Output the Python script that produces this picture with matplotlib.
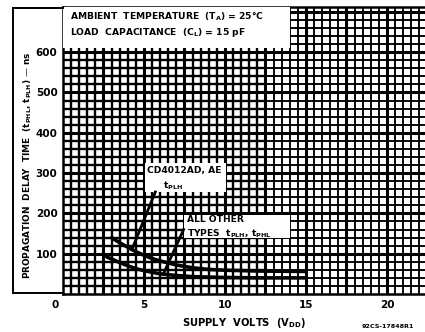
import numpy as np
import matplotlib.pyplot as plt
from matplotlib.patches import Rectangle
from matplotlib.lines import Line2D
import matplotlib.transforms as mtransforms

# propagation delay vs supply voltage (read at 25 C, CL = 15 pF)
vdd_cd4012 = [3.0, 3.5, 4.0, 4.5, 5.0, 5.5, 6.0, 7.0, 8.0, 9.0, 10.0, 12.0, 15.0]
tplh_cd4012 = [140, 127, 116, 105, 96, 88, 82, 72, 65, 61, 59, 57, 56]
vdd_other = [2.7, 3.5, 4.0, 4.5, 5.0, 5.5, 6.0, 7.0, 8.0, 9.0, 10.0, 12.0, 15.0]
tpd_other = [92, 78, 70, 63, 58, 54, 50, 46, 43, 42, 41, 40, 40]

x_ticks = [0, 5, 10, 15, 20]
y_ticks = [100, 200, 300, 400, 500, 600]

W, H = 425, 332
fig = plt.figure(figsize=(W / 100, H / 100), dpi=100)
ax = fig.add_axes([63 / W, 38 / H, 362 / W, 287 / H])
xmax, ymax = 22.35, 712
ax.set_xlim(0, xmax)
ax.set_ylim(0, ymax)

# graph paper: minor every 0.5 V / 20 ns, heavy every 2.5 V / 100 ns
xs = np.arange(0.5, xmax, 0.5)
ys = np.arange(20, ymax, 20)
split = 12.5
for x in xs:
    heavy = abs(x / 2.5 - round(x / 2.5)) < 1e-6
    lw = 2.2 if heavy else (1.7 if x < split else 1.35)
    ax.vlines(x, 0, ymax, color='black', lw=lw, zorder=1)
for y in ys:
    heavy = y % 100 == 0
    if heavy:
        ax.hlines(y, 0, xmax, color='black', lw=2.2, zorder=1)
    else:
        ax.hlines(y, 0, split, color='black', lw=1.7, zorder=1)
        ax.hlines(y, split, xmax, color='black', lw=1.35, zorder=1)

ax.spines['right'].set_visible(False)
for side in ['left', 'bottom', 'top']:
    ax.spines[side].set_linewidth(1.8)

# white label areas
fs = 6.6
f = dict(family='DejaVu Sans', weight='bold', color='black')
ax.add_patch(Rectangle((0, 610), 14.0, ymax - 610, facecolor='white', edgecolor='none', zorder=3))
ax.text(0.45, 688, 'AMBIENT  TEMPERATURE  (T$_\\mathbf{A}$) = 25°C', fontsize=fs, va='center', zorder=4, **f)
ax.text(0.45, 648, 'LOAD  CAPACITANCE  (C$_\\mathbf{L}$) = 15 pF', fontsize=fs, va='center', zorder=4, **f)

ax.add_patch(Rectangle((5.06, 253), 5.0, 72, facecolor='white', edgecolor='none', zorder=3))
ax.text(5.2, 306, 'CD4012AD, AE', fontsize=fs, va='center', zorder=4, **f)
ax.text(6.2, 268, 't$_\\mathbf{PLH}$', fontsize=fs, va='center', zorder=4, **f)

ax.add_patch(Rectangle((7.5, 139), 6.5, 57, facecolor='white', edgecolor='none', zorder=3))
ax.text(7.65, 184, 'ALL OTHER', fontsize=fs, va='center', zorder=4, **f)
ax.text(7.65, 150, 'TYPES  t$_\\mathbf{PLH}$, t$_\\mathbf{PHL}$', fontsize=fs, va='center', zorder=4, **f)

# curves and leaders
ax.plot(vdd_cd4012, tplh_cd4012, color='black', lw=2.6, solid_capstyle='round', zorder=5)
ax.plot(vdd_other, tpd_other, color='black', lw=2.6, solid_capstyle='round', zorder=5)
ax.plot([5.7, 4.25], [253, 110], color='black', lw=2.0, zorder=5)
ax.plot([7.45, 6.2], [160, 50], color='black', lw=2.0, zorder=5)

ax.set_xticks(x_ticks)
ax.set_xticklabels([str(v) for v in x_ticks])
ax.set_yticks(y_ticks)
ax.set_yticklabels([str(v) for v in y_ticks])
ax.tick_params(length=0, labelsize=7.5, pad=4)
for lab in ax.get_xticklabels() + ax.get_yticklabels():
    lab.set_fontweight('bold')
zero = ax.get_xticklabels()[0]
zero.set_transform(zero.get_transform() + mtransforms.ScaledTranslation(-8 / 100, 0, fig.dpi_scale_trans))

ax.set_xlabel('SUPPLY  VOLTS  (V$_\\mathbf{DD}$)', fontsize=7.2, fontweight='bold', labelpad=5)
fig.text(28 / W, 1 - 165 / H, 'PROPAGATION  DELAY  TIME  (t$_\\mathbf{PHL}$, t$_\\mathbf{PLH}$) — ns',
         rotation=90, ha='center', va='center', fontsize=6.4, fontweight='bold')
fig.text(362 / W, 3 / H, '92CS-17848R1', fontsize=4.6, fontweight='bold', ha='left', va='bottom')

# frame around the y label
for xy in [((13, 13), (8, 293)), ((13, 63), (8, 8)), ((13, 63), (293, 293))]:
    fig.add_artist(Line2D([p / W for p in xy[0]], [1 - p / H for p in xy[1]], color='black', lw=1.4))

fig.savefig('out.png', dpi=100, facecolor='white')
